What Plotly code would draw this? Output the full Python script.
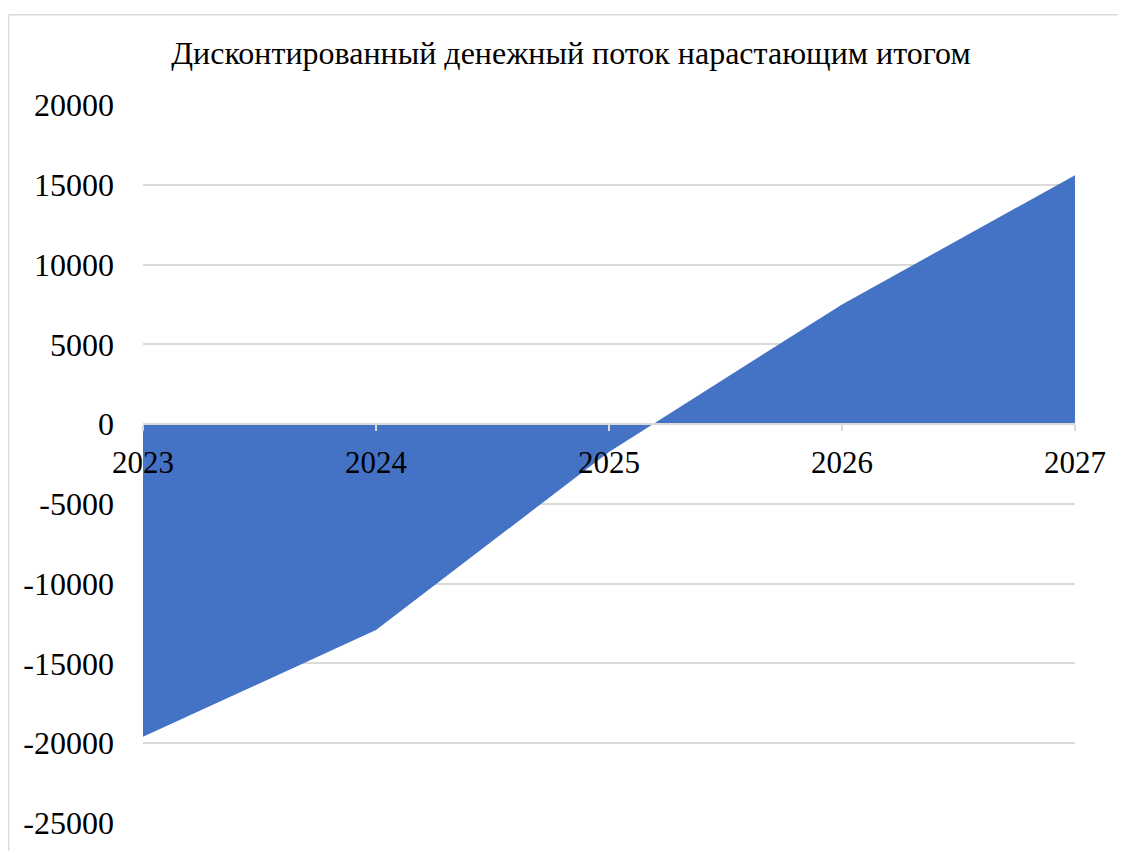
import plotly.graph_objects as go

years = ["2023", "2024", "2025", "2026", "2027"]
cumulative_dcf = [-19600, -12900, -1750, 7500, 15600]
y_ticks = [20000, 15000, 10000, 5000, 0, -5000, -10000, -15000, -20000, -25000]
title_text = "Дисконтированный денежный поток нарастающим итогом"

# page body has an 8px margin, so the figure is shifted by 8px
OFF = 8
W, H = 1126 - OFF, 853 - OFF
L, R, T, B = 143 - OFF, 51, 105 - OFF, 21
pw, ph = W - L - R, H - T - B
ymin, ymax = -25000, 20000

fig = go.Figure()
fig.add_trace(go.Scatter(
    x=years, y=cumulative_dcf, mode="lines", fill="tozeroy",
    fillcolor="#4472C4", line=dict(width=0, color="#4472C4"),
    hoverinfo="x+y", showlegend=False,
))

def px_x(p):
    return (p - OFF - L) / pw

def px_y(p):
    return (H - B - (p - OFF)) / ph

fig.update_layout(
    width=W, height=H,
    margin=dict(l=L, r=R, t=T, b=B),
    paper_bgcolor="white", plot_bgcolor="white",
    font=dict(family="Liberation Serif, Times New Roman, serif", color="black"),
    title=dict(text=title_text, x=(571 - OFF) / W, xanchor="center",
               y=1 - (53 - OFF) / H, yanchor="middle",
               font=dict(size=32, family="Liberation Serif, serif", color="black")),
    xaxis=dict(type="category", range=[0, 4], showgrid=False, zeroline=False,
               showline=True, linecolor="#d9d9d9", linewidth=1.5,
               ticks="outside", ticklen=6, tickcolor="#d9d9d9", tickwidth=1.5,
               anchor="free", position=(0 - ymin) / (ymax - ymin),
               tickfont=dict(size=31), ticklabelstandoff=5),
    yaxis=dict(range=[ymin, ymax], tickvals=y_ticks, ticktext=[str(v) for v in y_ticks],
               showgrid=True, gridcolor="#d9d9d9", gridwidth=1.5, zeroline=False,
               showline=False, ticks="", tickfont=dict(size=32), ticklabelstandoff=28),
    shapes=[
        dict(type="line", xref="paper", yref="paper", x0=px_x(8), x1=px_x(1130),
             y0=px_y(13.5), y1=px_y(13.5), line=dict(color="#d9d9d9", width=1.5)),
        dict(type="line", xref="paper", yref="paper", x0=px_x(8.5), x1=px_x(8.5),
             y0=px_y(13.5), y1=px_y(860), line=dict(color="#d9d9d9", width=1.5)),
    ],
)
fig.write_html("out.html")
